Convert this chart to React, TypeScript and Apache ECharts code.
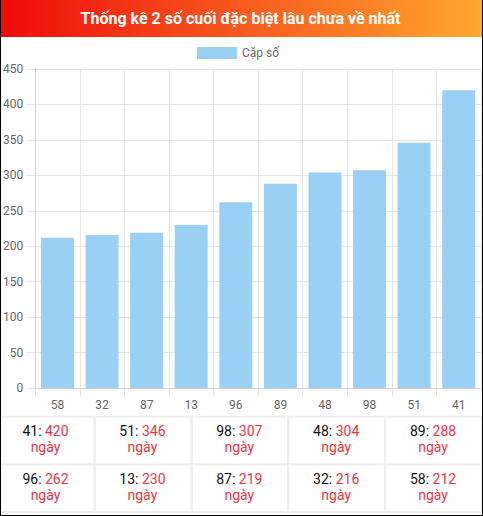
import React, { useEffect, useRef } from "react";
import * as echarts from "echarts";

const TITLE = "Thống kê 2 số cuối đặc biệt lâu chưa về nhất";
const SERIES_NAME = "Cặp số";
const UNIT = "ngày";
const categories = ["58", "32", "87", "13", "96", "89", "48", "98", "51", "41"];
const values = [212, 216, 219, 230, 262, 288, 304, 307, 346, 420];
const Y_MAX = 450;
const Y_STEP = 50;

const W = 483;
const H = 516;
const RED = "#ee3344";
const FONT = "Roboto, 'Noto Sans', sans-serif";

function buildGraphics(): any[] {
  const els: any[] = [];
  // header
  els.push({
    type: "rect",
    shape: { x: 0, y: 0, width: W, height: 37 },
    style: {
      fill: new echarts.graphic.LinearGradient(0, 0, 1, 0, [
        { offset: 0, color: "#ee0a0a" },
        { offset: 0.5, color: "#f85a1e" },
        { offset: 1, color: "#ffa82c" },
      ]),
    },
    z: 10,
  });
  els.push({
    type: "text",
    style: {
      text: TITLE,
      x: W / 2 - 1,
      y: 18,
      align: "center",
      verticalAlign: "middle",
      fill: "#ffffff",
      fontSize: 16,
      fontWeight: "bold",
      fontFamily: FONT,
    },
    z: 11,
  });

  // table built from the data (sorted descending)
  const order = values
    .map((v, i) => ({ v, c: categories[i] }))
    .sort((a, b) => b.v - a.v);
  const sepColor = "#eeeeee";
  const hLines = [415.8, 463.5, 511];
  hLines.forEach((y) =>
    els.push({
      type: "rect",
      shape: { x: 0, y, width: W, height: 2 },
      style: { fill: sepColor },
      z: 5,
    })
  );
  for (let k = 0; k < 5; k++) {
    els.push({
      type: "rect",
      shape: { x: 94.7 + 96.8 * k - 1.2, y: 416, width: 2.4, height: 97 },
      style: { fill: sepColor },
      z: 5,
    });
  }
  order.forEach((d, i) => {
    const row = Math.floor(i / 5);
    const col = i % 5;
    const cx = 45.5 + col * 96.9;
    const y1 = 430.8 + row * 48;
    els.push({
      type: "text",
      style: {
        text: `{a|${d.c}: }{b|${d.v}}`,
        x: cx,
        y: y1,
        align: "center",
        verticalAlign: "middle",
        fontSize: 14,
        fontFamily: FONT,
        rich: {
          a: { fill: "#111111", fontSize: 14, fontFamily: FONT },
          b: { fill: RED, fontSize: 14, fontFamily: FONT },
        },
      },
      z: 6,
    });
    els.push({
      type: "text",
      style: {
        text: UNIT,
        x: cx,
        y: y1 + 16.6,
        align: "center",
        verticalAlign: "middle",
        fill: RED,
        fontSize: 14,
        fontFamily: FONT,
      },
      z: 6,
    });
  });

  // outer dark border (left, right, bottom)
  els.push({ type: "rect", shape: { x: 0, y: 0, width: 1, height: H }, style: { fill: "#000" }, z: 100 });
  els.push({ type: "rect", shape: { x: W - 1, y: 0, width: 1, height: H }, style: { fill: "#000" }, z: 100 });
  els.push({ type: "rect", shape: { x: 0, y: H - 1, width: W, height: 1 }, style: { fill: "#000" }, z: 100 });
  return els;
}

export default function App() {
  const ref = useRef<HTMLDivElement>(null);
  useEffect(() => {
    document.body.style.margin = "0";
    if (!ref.current) return;
    const chart = echarts.init(ref.current, undefined, { renderer: "svg" });
    const gridColor = "#e6e6e6";
    const axisColor = "#d2d2d2";
    chart.setOption({
      animation: false,
      backgroundColor: "#ffffff",
      textStyle: { fontFamily: FONT },
      legend: {
        data: [SERIES_NAME],
        left: 197,
        top: 47,
        padding: 0,
        itemWidth: 40,
        itemHeight: 12,
        icon: "rect",
        textStyle: { fontSize: 12, color: "#666666", fontFamily: FONT },
      },
      grid: { left: 31, top: 69, width: 450, height: 319, containLabel: false },
      xAxis: {
        type: "category",
        data: categories,
        boundaryGap: true,
        axisLine: { show: true, lineStyle: { color: axisColor } },
        axisTick: { show: true, length: 8, lineStyle: { color: gridColor } },
        axisLabel: { color: "#666666", fontSize: 12, margin: 11, fontFamily: FONT },
        splitLine: { show: true, lineStyle: { color: gridColor } },
      },
      yAxis: {
        type: "value",
        min: 0,
        max: Y_MAX,
        interval: Y_STEP,
        axisLine: { show: true, lineStyle: { color: axisColor } },
        axisTick: { show: true, length: 9, lineStyle: { color: gridColor } },
        axisLabel: { color: "#666666", fontSize: 12, margin: 12, fontFamily: FONT },
        splitLine: { show: true, lineStyle: { color: gridColor } },
      },
      series: [
        {
          name: SERIES_NAME,
          type: "bar",
          data: values,
          barWidth: 33,
          itemStyle: { color: "#9bd0f5" },
        },
      ],
      graphic: buildGraphics(),
    });
    return () => chart.dispose();
  }, []);
  return <div ref={ref} style={{ width: W, height: H }} />;
}
